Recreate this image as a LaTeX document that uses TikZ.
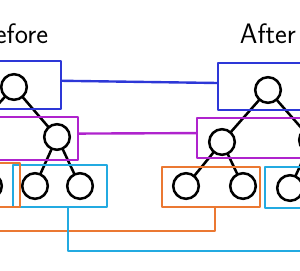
\documentclass[tikz,border=0pt]{standalone}
\usepackage{tikz}
\usetikzlibrary{fit}
\definecolor{grpblue}{RGB}{45,55,215}
\definecolor{grpmagenta}{RGB}{175,35,205}
\definecolor{grpcyan}{RGB}{35,170,225}
\definecolor{grporange}{RGB}{235,120,50}

\begin{document}
\begin{tikzpicture}[
    x=0.025cm, y=-0.025cm,
    line cap=round, line join=round,
    vert/.style={circle, draw, line width=1.8pt, minimum size=0.64cm, inner sep=0pt},
    edge/.style={line width=1.8pt},
    grp/.style={rectangle, draw, line width=1.7pt, inner sep=0pt},
    blueg/.style={grp, draw=grpblue},
    magentag/.style={grp, draw=grpmagenta},
    cyang/.style={grp, draw=grpcyan},
    orangeg/.style={grp, draw=grporange},
    link/.style={line width=1.7pt},
    title/.style={font=\sffamily\fontsize{20}{24}\selectfont},
]
\useasboundingbox (0,0) rectangle (300,270);
\clip (0,0) rectangle (300,270);

% before tree
\node[vert] (lroot) at (14,87) {};
\node[vert] (lleft) at (-32,137) {};
\node[vert] (lright) at (57,137) {};
\node[vert] (lll) at (-56,186) {};
\node[vert] (llr) at (-11,186) {};
\node[vert] (lrl) at (35,186) {};
\node[vert] (lrr) at (80,186) {};
\draw[edge] (lroot) -- (lleft);
\draw[edge] (lroot) -- (lright);
\draw[edge] (lleft) -- (lll);
\draw[edge] (lleft) -- (llr);
\draw[edge] (lright) -- (lrl);
\draw[edge] (lright) -- (lrr);

\node[blueg, fit={(-40,61) (61,109)}] (lblue) {};
\node[magentag, fit={(-62,117) (78,160)}] (lmag) {};
\node[cyang, fit={(13,165) (107,207)}] (lcyan) {};
\node[orangeg, fit={(-78,163) (20,207)}] (lorange) {};

% after tree
\node[vert] (rroot) at (268,90) {};
\node[vert] (rleft) at (222,142) {};
\node[vert] (rright) at (312,140) {};
\node[vert] (rll) at (186,186) {};
\node[vert] (rlr) at (243,186) {};
\node[vert] (rrl) at (290,188) {};
\node[vert] (rrr) at (335,188) {};
\draw[edge] (rroot) -- (rleft);
\draw[edge] (rroot) -- (rright);
\draw[edge] (rleft) -- (rll);
\draw[edge] (rleft) -- (rlr);
\draw[edge] (rright) -- (rrl);
\draw[edge] (rright) -- (rrr);

\node[blueg, fit={(218,63) (320,110)}] (rblue) {};
\node[magentag, fit={(197,118) (338,158)}] (rmag) {};
\node[orangeg, fit={(162,167) (260,207)}] (rorange) {};
\node[cyang, fit={(265,167) (360,208)}] (rcyan) {};

% group links
\draw[link, grpblue] ([yshift=3pt]lblue.east) -- ([yshift=2.5pt]rblue.west);
\draw[link, grpmagenta] ([yshift=3.5pt]lmag.east) -- ([yshift=3.5pt]rmag.west);
\draw[link, grporange] (lorange.south) -- ++(0,23) -| ([xshift=3pt]rorange.south);
\draw[link, grpcyan] ([xshift=5.5pt]lcyan.south) -- ++(0,43) -| (rcyan.south);

\node[title, anchor=base east] (before) at (53,43) {Before};
\node[title, anchor=base west] (after) at (235,43) {After};
\end{tikzpicture}
\end{document}
